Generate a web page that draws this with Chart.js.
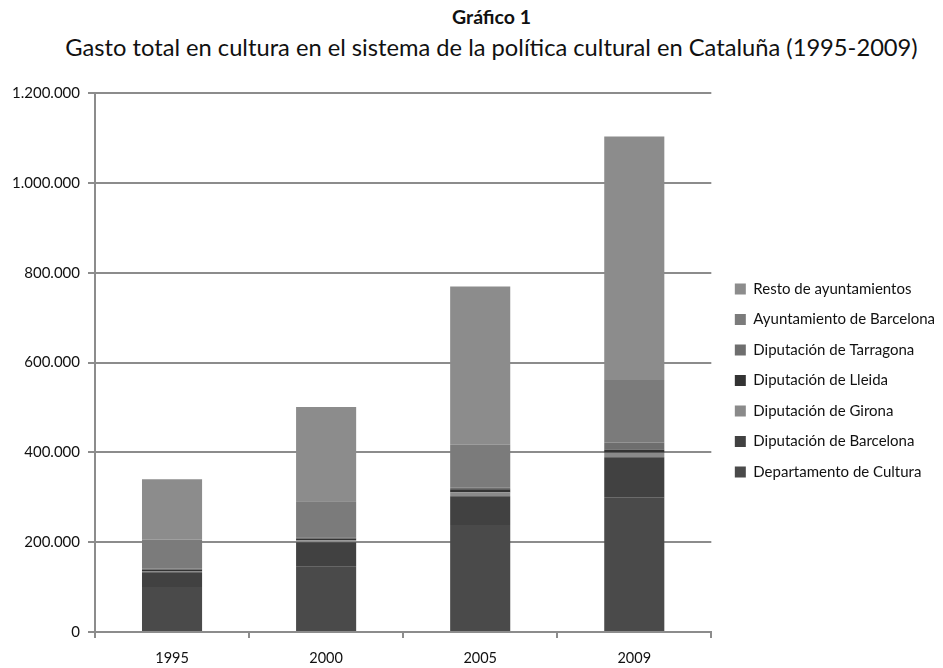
<!DOCTYPE html>
<html>
<head>
<meta charset="utf-8">
<script src="https://cdn.jsdelivr.net/npm/chart.js@4.4.1/dist/chart.umd.min.js"></script>
<style>
  body { margin: 0; background: #fff; }
  #wrap { position: relative; width: 943px; height: 668px; font-family: Lato, "Open Sans", sans-serif; color: #111; }
  #chart { position: absolute; left: 0; top: 0; }
  .t1 { position: absolute; left: 40px; width: 903px; top: 5px; text-align: center; font-weight: bold; font-size: 19.5px; }
  .t2 { position: absolute; left: 40px; width: 903px; top: 33px; text-align: center; font-size: 23.7px; }
</style>
</head>
<body>
<div id="wrap">
  <div class="t1">Gráfico 1</div>
  <div class="t2">Gasto total en cultura en el sistema de la política cultural en Cataluña (1995-2009)</div>
  <canvas id="chart" width="943" height="668"></canvas>
</div>
<script>
const years = ['1995', '2000', '2005', '2009'];
const departamento = [100000, 145000, 238000, 300000];
const dipBarcelona = [33000, 55000, 64000, 89000];
const dipGirona = [3000, 4000, 9000, 10000];
const dipLleida = [3000, 4000, 7000, 7000];
const dipTarragona = [2000, 3000, 3000, 16000];
const aytoBarcelona = [65000, 80000, 96000, 139000];
const restoAytos = [134000, 210000, 352000, 542000];
const yTicks = [0, 200000, 400000, 600000, 800000, 1000000, 1200000];

function fmt(v) {
    return String(v).replace(/\B(?=(\d{3})+(?!\d))/g, '.');
}

const fontFam = 'Lato, "Open Sans", sans-serif';

const data = {
    labels: years,
    datasets: [
        { label: 'Departamento de Cultura', data: departamento, backgroundColor: '#4a4a4a' },
        { label: 'Diputación de Barcelona', data: dipBarcelona, backgroundColor: '#414141' },
        { label: 'Diputación de Girona', data: dipGirona, backgroundColor: '#8a8a8a' },
        { label: 'Diputación de Lleida', data: dipLleida, backgroundColor: '#333333' },
        { label: 'Diputación de Tarragona', data: dipTarragona, backgroundColor: '#6e6e6e' },
        { label: 'Ayuntamiento de Barcelona', data: aytoBarcelona, backgroundColor: '#7b7b7b' },
        { label: 'Resto de ayuntamientos', data: restoAytos, backgroundColor: '#8c8c8c' }
    ]
};
data.datasets.forEach(function (d) {
    d.barPercentage = 0.39;
    d.categoryPercentage = 1.0;
});

// nudge the legend a bit away from the plot, like the original
const legendGap = {
    id: 'legendGap',
    afterLayout: function (chart) {
        const lg = chart.legend;
        const shift = chart.chartArea.right + 8 - lg.left;
        lg.left += shift;
        lg.right += shift;
    }
};

const ctx = document.getElementById('chart');
const myChart = new Chart(ctx, {
    type: 'bar',
    data: data,
    plugins: [legendGap],
    options: {
        responsive: false,
        animation: false,
        layout: { padding: { top: 93, left: 0, right: 6, bottom: 0 } },
        plugins: {
            title: { display: false },
            tooltip: { enabled: false },
            legend: {
                position: 'right',
                reverse: true,
                labels: {
                    boxWidth: 11,
                    boxHeight: 11,
                    padding: 15.5,
                    color: '#111',
                    font: { family: fontFam, size: 15 }
                }
            }
        },
        scales: {
            x: {
                stacked: true,
                afterFit: function (scale) { scale.height = 36; },
                grid: {
                    drawOnChartArea: false,
                    color: '#8c8c8c',
                    lineWidth: 2,
                    tickLength: 6,
                    offset: true
                },
                border: { color: '#8c8c8c', width: 2 },
                ticks: { color: '#111', padding: 12, font: { family: fontFam, size: 14.5 } }
            },
            y: {
                stacked: true,
                min: 0,
                max: 1200000,
                afterFit: function (scale) { scale.width = 95; },
                afterBuildTicks: function (scale) {
                    scale.ticks = yTicks.map(function (v) { return { value: v }; });
                },
                grid: { color: '#8c8c8c', lineWidth: 2, tickLength: 7 },
                border: { color: '#8c8c8c', width: 2 },
                ticks: {
                    color: '#111',
                    padding: 8,
                    font: { family: fontFam, size: 15 },
                    callback: function (v) { return fmt(v); }
                }
            }
        }
    }
});
</script>
</body>
</html>
